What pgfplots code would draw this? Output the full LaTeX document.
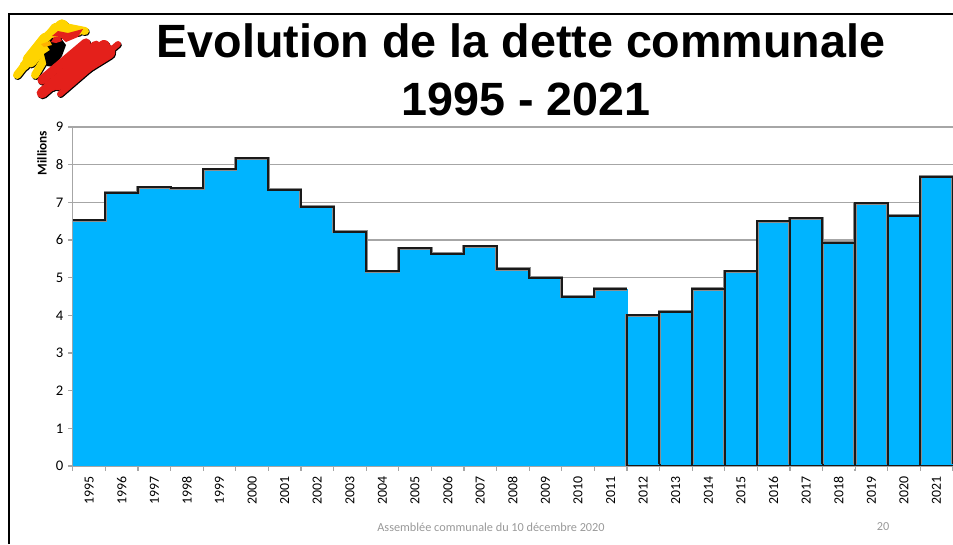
\documentclass[border=0pt]{standalone}
\usepackage{fontspec}
\setmainfont{Carlito}
\newfontfamily\arialf{Liberation Sans}
\usepackage{pgfplots}
\usepackage{pgfplotstable}
\pgfplotsset{compat=1.18}
\definecolor{barblue}{HTML}{00B4FF}
\definecolor{gridg}{HTML}{A6A6A6}
\definecolor{logoY}{HTML}{FFD400}
\definecolor{logoR}{HTML}{E4201B}
\pgfplotstableread{
x v
0 6.52
1 7.25
2 7.40
3 7.37
4 7.88
5 8.17
6 7.33
7 6.88
8 6.22
9 5.17
10 5.78
11 5.63
12 5.83
13 5.23
14 5.00
15 4.50
16 4.70
}\early
\pgfplotstableread{
x v
-0.5 6.52
0.5 7.25
1.5 7.40
2.5 7.37
3.5 7.88
4.5 8.17
5.5 7.33
6.5 6.88
7.5 6.22
8.5 5.17
9.5 5.78
10.5 5.63
11.5 5.83
12.5 5.23
13.5 5.00
14.5 4.50
15.5 4.70
16.5 4.70
}\outline
\pgfplotstableread{
x v
17 4.00
18 4.10
19 4.70
20 5.17
21 6.50
22 6.58
23 5.93
24 6.97
25 6.65
26 7.68
}\late
\begin{document}
\begin{tikzpicture}
\path[use as bounding box] (0,0) rectangle (714.75pt,-408pt);
\begin{axis}[
  at={(54.6pt,-349.5pt)}, anchor=south west,
  scale only axis, width=660pt, height=254.25pt,
  xmin=-0.5, xmax=26.5, ymin=0, ymax=9,
  ytick={0,...,9},
  xtick={0,...,26},
  xticklabels={1995,1996,1997,1998,1999,2000,2001,2002,2003,2004,2005,2006,2007,2008,2009,2010,2011,2012,2013,2014,2015,2016,2017,2018,2019,2020,2021},
  minor xtick={-0.5,0.5,...,26.5},
  x tick label style={rotate=90, anchor=east, font=\fontsize{10.4}{11}\selectfont, xshift=-1pt},
  y tick label style={font=\fontsize{11}{12}\selectfont},
  /pgf/number format/assume math mode=true,
  tick align=outside,
  major tick length=3.5pt,
  minor tick length=3.5pt,
  xtick style={draw=none},
  ytick style={gridg, line width=0.8pt},
  minor x tick style={draw=gridg, line width=0.8pt},
  ymajorgrids, grid style={gridg, line width=0.8pt},
  axis line style={gridg, line width=0.8pt, -},
  axis x line*=bottom, axis y line*=left,
  clip=false,
]
\addplot[ybar, bar width=1, bar shift=0pt, fill=barblue, draw=barblue, line width=0.1pt] table[x=x,y=v] {\early};
\addplot[const plot, black!45, line width=2.3pt] table[x=x,y=v] {\outline};
\addplot[const plot, black!90, line width=1.5pt] table[x=x,y=v] {\outline};
\addplot[ybar, bar width=1, bar shift=0pt, fill=barblue, draw=barblue, line width=0.1pt] table[x=x,y=v] {\late};
\addplot[ybar, bar width=1, bar shift=0pt, fill=none, draw=black!45, line width=2.3pt] table[x=x,y=v] {\late};
\addplot[ybar, bar width=1, bar shift=0pt, fill=none, draw=black!90, line width=1.5pt] table[x=x,y=v] {\late};
\end{axis}
\begin{scope}[x=0.75pt,y=-0.75pt]
 \draw[barblue, line width=1.0pt] (628.5,464.6) -- (953,464.6);
 \foreach \xx in {17,...,26} {\draw[black!90, line width=1.5pt] ({72.8+32.6*\xx},463.5) -- ++(0,1.8);}
 \draw[gridg, line width=1.2pt] (72.5,466.3) -- (953,466.3);
 \draw[white, line width=1.5pt] (72.5,468.4) -- (953,468.4);
 \foreach \xx in {0,...,27} {\draw[gridg, line width=0.8pt] ({72.8+32.6*\xx},466) -- ++(0,5);}
 \draw[black, line width=1.5pt] (9,544) -- (9,14) -- (953,14);
 \node[font=\arialf\bfseries\fontsize{35}{40}\selectfont, anchor=base] at (521,57) {Evolution de la dette communale};
 \node[font=\arialf\bfseries\fontsize{35}{40}\selectfont, anchor=base] at (526,115) {1995 - 2021};
 \node[font=\bfseries\fontsize{10}{11}\selectfont, rotate=90] at (42,153) {Millions};
 \node[font=\fontsize{9.2}{10}\selectfont, text=gray!80] at (491,527) {Assemblée communale du 10 décembre 2020};
 \node[font=\fontsize{9.2}{10}\selectfont, text=gray!80] at (883,527) {20};
 % logo: brush strokes
 \begin{scope}[line cap=round, line join=round]
  \foreach \ax/\ay/\bx/\by/\w in {17/75/55/27/6,24/66/62/24/7,35/75/50/50/6,30/60/46/40/11,43/44/62/27/11,60/26/85/31/6,62/30/78/32/6}{
    \draw[black, line width=\w pt] (\ax+0.8,\ay+1) -- (\bx+0.8,\by+1);
  }
  \foreach \ax/\ay/\bx/\by/\w in {17/75/55/27/6,24/66/62/24/7,35/75/50/50/6,30/60/46/40/11,43/44/62/27/11,60/26/85/31/6,62/30/78/32/6}{
    \draw[logoY, line width=\w pt] (\ax,\ay) -- (\bx,\by);
  }
  \fill[black] (46,44) -- (52,38) -- (60,37) -- (66,45) -- (62,56) -- (54,67) -- (47,66) -- (44,54) -- (50,50) -- cycle;
  \fill[logoR] (51,42) -- (54,37) -- (60,37) -- (62,41) -- (56,43) -- cycle;
  \fill[logoY!60!orange] (41,44) -- (50,41) -- (52,45) -- (44,47) -- cycle;
  \fill[logoR] (52,36) -- (58,31) -- (68,33) -- (83,29) -- (78,37) -- (66,42) -- (60,37) -- cycle;
  \foreach \ax/\ay/\bx/\by/\w in {42/80/86/43/7,42/93/96/46/8,52/85/104/46/9,60/94/118/44/4.5,58/83/108/52/11}{
    \draw[black, line width=\w pt] (\ax+0.8,\ay+1) -- (\bx+0.8,\by+1);
  }
  \foreach \ax/\ay/\bx/\by/\w in {42/80/86/43/7,42/93/96/46/8,52/85/104/46/9,60/94/118/44/4.5,58/83/108/52/11}{
    \draw[logoR, line width=\w pt] (\ax,\ay) -- (\bx,\by);
  }
 \end{scope}
\end{scope}
\end{tikzpicture}
\end{document}
